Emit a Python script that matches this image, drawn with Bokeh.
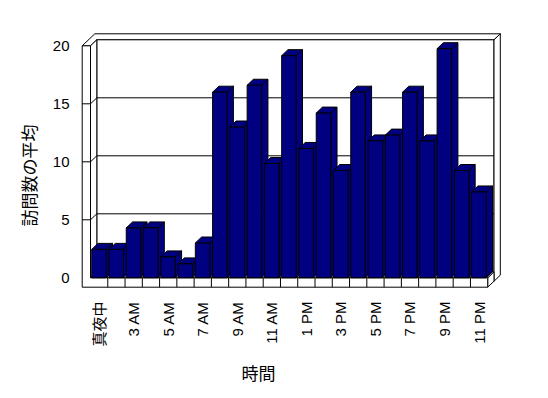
from math import pi
from bokeh.plotting import figure
from bokeh.models import FixedTicker, ColumnDataSource, Title
from bokeh.embed import file_html
from bokeh.resources import INLINE

# ---- data ----
categories = ["真夜中", "2 AM", "3 AM", "4 AM", "5 AM", "6 AM", "7 AM", "8 AM",
              "9 AM", "10 AM", "11 AM", "12 PM", "1 PM", "2 PM", "3 PM", "4 PM",
              "5 PM", "6 PM", "7 PM", "8 PM", "9 PM", "10 PM", "11 PM"]
values = [2.45, 2.45, 4.3, 4.3, 1.8, 1.2, 3.0, 16.0, 13.0, 16.6, 9.85, 19.15,
          11.15, 14.2, 9.25, 16.0, 11.8, 12.3, 16.0, 11.8, 19.75, 9.25, 7.4]
y_ticks = [0, 5, 10, 15, 20]
x_title = "時間"
y_title = "訪問数の平均"

# ---- geometry (pseudo 3D) ----
N = len(values)
YMAX = 20
SX, SY = 17.27, 11.6          # px per unit
DX, DY = 6.3 / SX, 6.0 / SY    # depth offset in data units
WALL = 8.3 / SX                # left wall thickness
FLOOR = 9.4 / SY               # floor thickness
BAR_OFF, BAR_W = 0.07, 0.84

FL, FR, FT, FB = 78, 508, 28, 290
X0PX, Y0PX = 90.0, 277.3
x_start = -(X0PX - FL) / SX
x_end = (FR - X0PX) / SX
y_end = (Y0PX - FT) / SY
y_start = -(FB - Y0PX) / SY

p = figure(width=548, height=398, x_range=(x_start, x_end), y_range=(y_start, y_end),
           output_backend="svg", toolbar_location=None,
           min_border_left=FL, min_border_right=548 - FR,
           min_border_top=FT, min_border_bottom=398 - FB)
p.grid.visible = False
p.outline_line_color = None
p.background_fill_color = "white"
p.border_fill_color = "white"


def off(pts, k):
    return [x + k * DX for x, _ in pts], [y + k * DY for _, y in pts]


frame_xs, frame_ys = [], []


def add(xs, ys):
    frame_xs.append(xs)
    frame_ys.append(ys)


# combined top face (left wall + back wall)
add([-WALL, 0, DX, N + DX, N + 2 * DX, -WALL + 2 * DX],
    [YMAX, YMAX, YMAX + DY, YMAX + DY, YMAX + 2 * DY, YMAX + 2 * DY])
# back wall front face
add(*off([(0, 0), (N, 0), (N, YMAX), (0, YMAX)], 1))
# back wall right face
add([N + DX, N + DX, N + 2 * DX, N + 2 * DX],
    [-FLOOR + DY, YMAX + DY, YMAX + 2 * DY, -FLOOR + 2 * DY])
# floor right face
add([N, N, N + DX, N + DX], [-FLOOR, 0, DY, -FLOOR + DY])
# floor top face
add([0, N, N + DX, DX], [0, 0, DY, DY])
# left wall inner face
add([0, 0, DX, DX], [0, YMAX, YMAX + DY, DY])
# L-shaped front face (left wall + floor)
add([-WALL, N, N, 0, 0, -WALL], [-FLOOR, -FLOOR, 0, 0, YMAX, YMAX])

p.patches(frame_xs, frame_ys, fill_color="white", line_color="black", line_width=1)

# grid lines on walls
gx, gy = [], []
for v in y_ticks[1:-1]:
    gx.append([-WALL, 0, DX, N + DX])
    gy.append([v, v, v + DY, v + DY])
# floor category dividers
for i in range(1, N):
    gx.append([i, i])
    gy.append([-FLOOR, 0])
p.multi_line(gx, gy, line_color="black", line_width=1)

# bars
bxs, bys = [], []
for i, v in enumerate(values):
    x0 = i + BAR_OFF
    x1 = x0 + BAR_W
    bxs.append([x1, x1 + DX, x1 + DX, x1])
    bys.append([0, DY, v + DY, v])
    bxs.append([x0, x1, x1 + DX, x0 + DX])
    bys.append([v, v, v + DY, v + DY])
    bxs.append([x0, x1, x1, x0])
    bys.append([0, 0, v, v])
src = ColumnDataSource(dict(xs=bxs, ys=bys))
p.patches("xs", "ys", source=src, fill_color="#000080", line_color="black", line_width=1)

# axes
tick_font = "Liberation Sans, Noto Sans CJK JP"
p.yaxis.ticker = FixedTicker(ticks=y_ticks)
p.xaxis.ticker = FixedTicker(ticks=[i + 0.5 for i in range(0, N, 2)])
p.xaxis.major_label_overrides = {i + 0.5: categories[i] for i in range(0, N, 2)}
p.xaxis.major_label_orientation = pi / 2
for ax in (p.xaxis, p.yaxis):
    ax.axis_line_color = None
    ax.major_tick_line_color = None
    ax.minor_tick_line_color = None
    ax.major_tick_out = 0
    ax.major_tick_in = 0
    ax.major_label_text_font = tick_font
    ax.major_label_text_font_size = "15px"
    ax.major_label_text_color = "black"
p.xaxis.major_label_standoff = 11
p.yaxis.major_label_standoff = 9

# axis titles (the original does not centre them on the frame)
title_kw = dict(text_font="Noto Sans CJK JP", text_font_size="17px", text_color="black",
                text_font_style="normal", align="left")
p.add_layout(Title(text=x_title, offset=163, standoff=16, **title_kw), "below")
p.add_layout(Title(text=y_title, offset=64, standoff=18, **title_kw), "left")

open("out.html", "w").write(file_html(p, INLINE))
